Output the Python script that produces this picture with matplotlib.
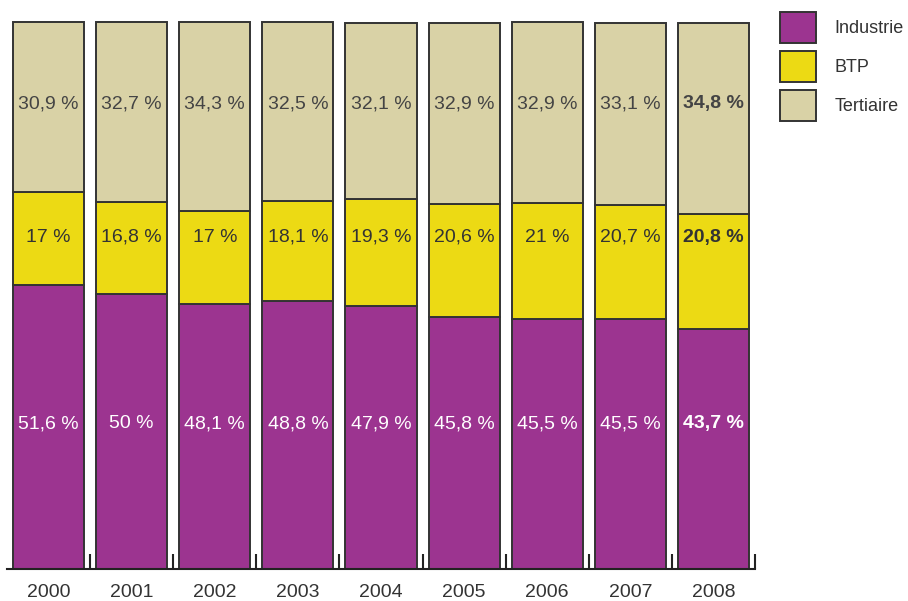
import matplotlib
matplotlib.use('Agg')
import matplotlib.pyplot as plt
import numpy as np
from matplotlib.patches import Patch

annees     = ['2000', '2001', '2002', '2003', '2004', '2005', '2006', '2007', '2008']
industrie  = [51.6, 50.0, 48.1, 48.8, 47.9, 45.8, 45.5, 45.5, 43.7]
btp        = [17.0, 16.8, 17.0, 18.1, 19.3, 20.6, 21.0, 20.7, 20.8]
tertiaire  = [30.9, 32.7, 34.3, 32.5, 32.1, 32.9, 32.9, 33.1, 34.8]
secteurs   = ['Industrie', 'BTP', 'Tertiaire']

COULEURS = ['#9C3490', '#ECDA14', '#D9D2A6']
TEXTE    = ['white', '#333333', '#444444']
BORD     = '#333333'
# hauteur fixe (en %) des étiquettes de chaque secteur
Y_ETIQ   = [26.4, 60.3, 84.6]

plt.rcParams['font.family'] = ['Liberation Sans', 'DejaVu Sans']


def fmt(v):
    s = f"{v:.1f}".rstrip('0').rstrip('.')
    return s.replace('.', ',') + ' %'


W, H = 908, 601
fig = plt.figure(figsize=(W / 100, H / 100), dpi=100, facecolor='white')
# axe : x de 7 à 755 px, ligne de base à y=569, 5.5 px par point de %
ax = fig.add_axes([7 / W, (H - 569) / H, 748 / W, 550 / H])

x = np.arange(len(annees))
series = [industrie, btp, tertiaire]
bas = np.zeros(len(annees))
for serie, coul, tcoul, yl in zip(series, COULEURS, TEXTE, Y_ETIQ):
    v = np.array(serie)
    ax.bar(x, v, bottom=bas, width=0.855, color=coul,
           edgecolor=BORD, linewidth=1.4, zorder=2)
    for i, val in enumerate(v):
        derniere = (i == len(annees) - 1)
        ax.text(x[i], yl, fmt(val), ha='center', va='center',
                fontsize=14, color=tcoul,
                fontweight='bold' if derniere else 'normal', zorder=3)
    bas += v

ax.set_xlim(-0.5, len(annees) - 0.5)
ax.set_ylim(0, 100)
for s in ['top', 'right', 'left']:
    ax.spines[s].set_visible(False)
ax.spines['bottom'].set_linewidth(1.5)
ax.spines['bottom'].set_color('#222222')
ax.set_yticks([])

ax.set_xticks(x)
ax.set_xticklabels(annees, fontsize=14, color='#333333')
ax.tick_params(axis='x', which='major', length=0, pad=10.5)
ax.set_xticks(np.arange(0.5, len(annees), 1.0), minor=True)
ax.tick_params(axis='x', which='minor', direction='in', length=10.8,
               width=1.5, color='#222222')

poignees = [Patch(facecolor=c, edgecolor=BORD, linewidth=1.4) for c in COULEURS]
leg = fig.legend(poignees, secteurs, loc='upper left',
                 bbox_to_anchor=(773 / W, 1 - 5 / H), frameon=False,
                 prop={'size': 13},
                 handlelength=2.0, handleheight=2.25, borderaxespad=0,
                 handletextpad=1.0, labelspacing=0.45, labelcolor='#333333')

fig.savefig('out.png', dpi=100, facecolor='white')
